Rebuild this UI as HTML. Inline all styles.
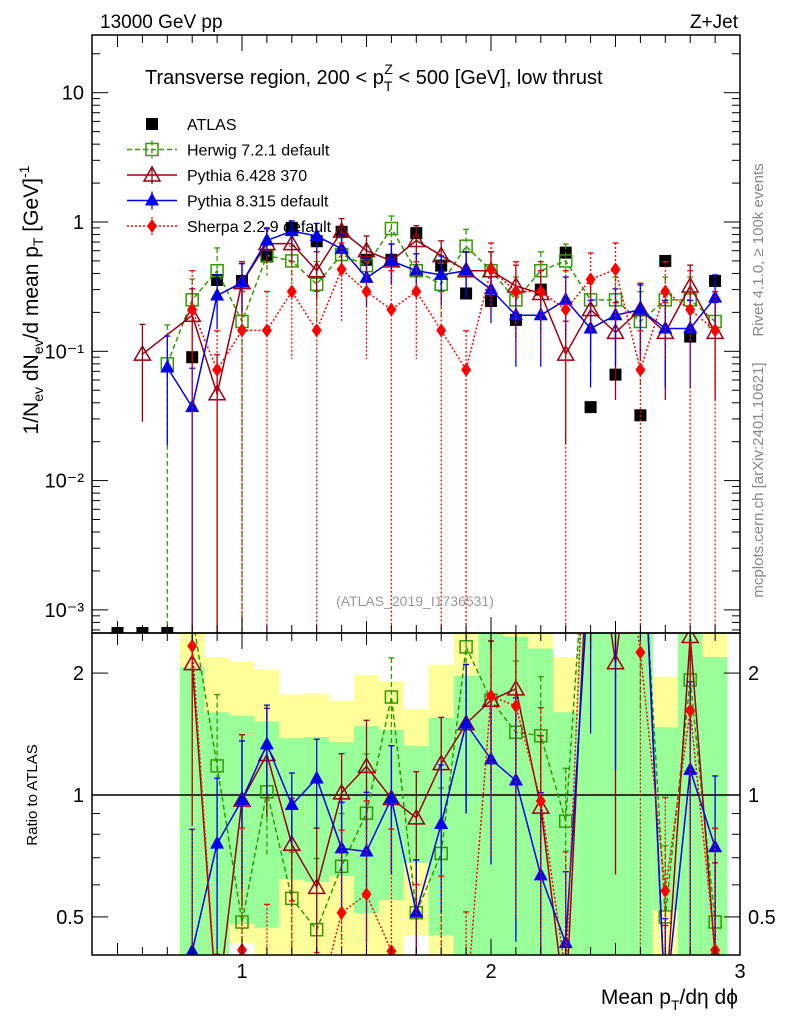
<!DOCTYPE html>
<html><head><meta charset="utf-8">
<style>
html,body{margin:0;padding:0;background:#fff;overflow:hidden;width:786px;height:1024px;}
svg{display:block;}
svg text{font-family:"Liberation Sans",Arial,sans-serif;}
</style></head>
<body>
<svg id="chart" width="786" height="1024" xmlns="http://www.w3.org/2000/svg">
<defs>
<clipPath id="cm"><rect x="92" y="35" width="648" height="598"/></clipPath>
<clipPath id="cr"><rect x="92" y="633" width="648" height="322"/></clipPath>
</defs>
<g id="bands" clip-path="url(#cr)"></g>
<g id="mainG" clip-path="url(#cm)"></g>
<g id="ratioG" clip-path="url(#cr)"></g>
<g id="axes"></g>
<text x="100" y="28" font-size="19">13000 GeV pp</text>
<text x="738" y="28" font-size="19" text-anchor="end">Z+Jet</text>
<text x="145" y="84" font-size="20">Transverse region, 200 &lt; p<tspan font-size="14" dy="7">T</tspan><tspan font-size="14" dx="-8" dy="-17">Z</tspan><tspan dy="10"> &lt; 500 [GeV], low thrust</tspan></text>
<text x="415" y="606" font-size="14" fill="#999" text-anchor="middle">(ATLAS_2019_I1736531)</text>
<text transform="translate(763,250) rotate(-90)" font-size="15" fill="#888" text-anchor="middle">Rivet 4.1.0, ≥ 100k events</text>
<text transform="translate(763,480) rotate(-90)" font-size="15" fill="#888" text-anchor="middle">mcplots.cern.ch [arXiv:2401.10621]</text>
<text transform="translate(38,300) rotate(-90)" font-size="21" text-anchor="middle">1/N<tspan font-size="14" dy="5">ev</tspan><tspan dy="-5"> dN</tspan><tspan font-size="14" dy="5">ev</tspan><tspan dy="-5">/d mean p</tspan><tspan font-size="14" dy="5">T</tspan><tspan dy="-5"> [GeV]</tspan><tspan font-size="14" dy="-9">-1</tspan></text>
<text transform="translate(37,795) rotate(-90)" font-size="15" text-anchor="middle">Ratio to ATLAS</text>
<text x="738" y="1004" font-size="21" text-anchor="end">Mean p<tspan font-size="14" dy="6">T</tspan><tspan dy="-6">/dη dϕ</tspan></text>
<g id="legend"></g>
</svg>
<script>
const bins=[0.5,0.6,0.7,0.8,0.9,1.0,1.1,1.2,1.3,1.4,1.5,1.6,1.7,1.8,1.9,2.0,2.1,2.2,2.3,2.4,2.5,2.6,2.7,2.8,2.9];
const atlas=[0,0,0,0.09,0.356,0.35,0.54,0.9,0.71,0.84,0.51,0.51,0.82,0.46,0.28,0.245,0.175,0.3,0.58,0.037,0.066,0.032,0.5,0.13,0.35];
const herwig=[0,0,0.08,0.25,0.42,0.17,0.55,0.5,0.33,0.56,0.46,0.89,0.42,0.33,0.65,0.42,0.25,0.42,0.5,0.25,0.25,0.17,0.25,0.25,0.17];
const pythia6=[0,0.095,0,0.19,0.047,0.34,0.68,0.68,0.42,0.85,0.6,0.5,0.72,0.55,0.42,0.42,0.32,0.28,0.095,0.21,0.14,0.21,0.14,0.32,0.14];
const pythia8=[0,0,0.075,0.037,0.27,0.34,0.72,0.85,0.78,0.62,0.37,0.5,0.42,0.39,0.42,0.3,0.19,0.19,0.25,0.15,0.19,0.21,0.15,0.15,0.26];
const sherpa=[0,0,0,0.21,0.072,0.145,0.145,0.29,0.145,0.43,0.29,0.21,0.29,0.145,0.072,0.43,0.29,0.29,0.21,0.36,0.43,0.072,0.29,0.21,0.145];
const herwigErr=[0,0,1,0.45,0.5,1,0.3,0.3,0.5,0.35,0.4,0.25,0.35,0.45,0.35,0.4,0.5,0.4,0.35,0.5,0.5,0.7,0.5,0.5,0.7];
const pythia6Err=[0,0.7,0,0.6,1,0.45,0.3,0.3,0.4,0.25,0.3,0.35,0.3,0.3,0.4,0.4,0.45,0.5,0.8,0.6,0.7,0.6,0.7,0.45,0.7];
const pythia8Err=[0,0,0.75,1,0.45,0.4,0.25,0.2,0.25,0.3,0.4,0.35,0.35,0.4,0.4,0.45,0.6,0.6,0.5,0.65,0.6,0.55,0.65,0.65,0.5];
const sherpaErr=[0,0,0,1,1,1,1,0.7,1,0.6,0.7,1,0.7,1,1,0.6,0.7,0.7,1,0.6,0.6,1,0.7,1,1];
const greenHi=[0,0,0,2.07,1.6,1.57,1.52,1.38,1.39,1.35,1.48,1.45,1.32,1.55,1.97,3,2.46,2.3,1.6,3,3,3,1.47,3,2.19];
const yellowHi=[0,0,0,3,2.19,2.13,2.04,1.77,1.78,1.71,1.98,1.91,1.63,2.1,3,3,3,3,2.19,3,3,3,1.96,3,3];
const greenLo=[0,0,0,0.3,0.3,0.48,0.47,0.62,0.61,0.63,0.51,0.55,0.68,0.45,0.3,0.3,0.3,0.3,0.3,0.3,0.3,0.3,0.52,0.3,0.3];
const yellowLo=[0,0,0,0.3,0.3,0.43,0.3,0.3,0.3,0.3,0.3,0.3,0.45,0.3,0.3,0.3,0.3,0.3,0.3,0.3,0.3,0.3,0.3,0.3,0.3];
const mainTicks=[10,1,0.1,0.01,0.001];
const mainTickLabels=["10","1","10⁻¹","10⁻²","10⁻³"];
const ratioTicks=[2,1,0.5];
const ratioTickLabels=["2","1","0.5"];
const xTicks=[1,2,3];
const xTickLabels=["1","2","3"];

const NS="http://www.w3.org/2000/svg";
const X=v=>92.6+(v-0.4)*249;
const clampY=y=>Math.max(10,Math.min(1010,y));
const Y=v=>clampY(222-Math.log10(v)*129.3);
const R=v=>clampY(795-Math.log10(v)*405);
function mk(tag,attrs,parent){const e=document.createElementNS(NS,tag);for(const k in attrs)e.setAttribute(k,attrs[k]);parent.appendChild(e);return e;}
const mainG=document.getElementById('mainG'),ratioG=document.getElementById('ratioG'),bandG=document.getElementById('bands'),axG=document.getElementById('axes'),legG=document.getElementById('legend');

for(let i=0;i<bins.length;i++){
  if(!greenHi[i])continue;
  const x0=X(bins[i]-0.05),w=X(bins[i]+0.05)-x0;
  const y=mk('rect',{x:x0,y:R(yellowHi[i]),width:w,height:R(yellowLo[i])-R(yellowHi[i]),fill:'#ffff99'},bandG);
  
  
  const g=mk('rect',{x:x0,y:R(greenHi[i]),width:w,height:R(greenLo[i])-R(greenHi[i]),fill:'#99ff99'},bandG);
  
  
}
const one=mk('line',{x1:92,x2:740,y1:R(1),y2:R(1),stroke:'#000','stroke-width':1.5},ratioG);



function marker(type,x,y,col,parent){
  let e;
  if(type==='sq') e=mk('rect',{x:x-6,y:y-6,width:12,height:12,fill:'none',stroke:col,'stroke-width':1.5},parent);
  else if(type==='fsq') e=mk('rect',{x:x-6,y:y-6,width:12,height:12,fill:col},parent);
  else if(type==='tri') e=mk('path',{d:`M${x},${y-8}L${x+8},${y+6}L${x-8},${y+6}Z`,fill:'none',stroke:col,'stroke-width':1.5},parent);
  else if(type==='ftri') e=mk('path',{d:`M${x},${y-8}L${x+7},${y+5}L${x-7},${y+5}Z`,fill:col},parent);
  else e=mk('path',{d:`M${x},${y-7}L${x+5},${y}L${x},${y+7}L${x-5},${y}Z`,fill:col},parent);
  return e;
}
const series=[
 {name:'herwig',vals:herwig,err:herwigErr,col:'#339900',dash:'5,3',m:'sq'},
 {name:'pythia6',vals:pythia6,err:pythia6Err,col:'#990011',dash:'',m:'tri'},
 {name:'pythia8',vals:pythia8,err:pythia8Err,col:'#0000ee',dash:'',m:'ftri'},
 {name:'sherpa',vals:sherpa,err:sherpaErr,col:'#ff0000',dash:'2,2',m:'dia'}
];
function drawSeries(s,parent,ratio){
  const pts=[];
  const bottom=ratio?1000:700;
  for(let i=0;i<bins.length;i++){
    let v=s.vals[i];
    if(!(v>0))continue;
    if(ratio){ if(!atlas[i])continue; v=v/atlas[i]; }
    const cx=X(bins[i]);
    const yf=ratio?R:Y;
    const cy=yf(v);
    pts.push(cx+','+cy);
    const e=s.err[i];
    const lo=v*(1-e), hi=v*(1+e);
    const eb=mk('line',{x1:cx,x2:cx,y1:yf(hi),y2:lo>0?yf(lo):bottom,stroke:s.col,'stroke-width':1.3,'stroke-dasharray':s.dash},parent);
    
    
    mk('line',{x1:cx-3,x2:cx+3,y1:yf(hi),y2:yf(hi),stroke:s.col,'stroke-width':1.3},parent);
  }
  const pl=mk('polyline',{points:pts.join(' '),fill:'none',stroke:s.col,'stroke-width':1.5,'stroke-dasharray':s.dash},parent);
  
  
  for(let i=0;i<bins.length;i++){
    let v=s.vals[i];
    if(!(v>0))continue;
    if(ratio){ if(!atlas[i])continue; v=v/atlas[i]; }
    const mm=marker(s.m,X(bins[i]),(ratio?R:Y)(v),s.col,parent);
    
    
  }
}
for(let i=0;i<bins.length;i++){
  const cy=atlas[i]>0?Y(atlas[i]):633;
  const p=marker('fsq',X(bins[i]),cy,'#000',mainG);
  
  
}
series.forEach(s=>{drawSeries(s,mainG,false);drawSeries(s,ratioG,true);});

[[35,598],[633,322]].forEach(([y,h])=>{
  const f=mk('rect',{x:92,y:y,width:648,height:h,fill:'none',stroke:'#000','stroke-width':1.5},axG);
  
  
});
for(let d=-4;d<=1;d++){for(let k=1;k<10;k++){const v=k*Math.pow(10,d);const y=222-Math.log10(v)*129.3;if(y<35||y>633)continue;const L=k===1?16:8;
 mk('line',{x1:92,x2:92+L,y1:y,y2:y,stroke:'#000'},axG);mk('line',{x1:740,x2:740-L,y1:y,y2:y,stroke:'#000'},axG);}}
mainTicks.forEach((v,i)=>{const t=mk('text',{x:84,y:Y(v)+7,'font-size':20,'text-anchor':'end'},axG);t.textContent=mainTickLabels[i];
 
 });
[0.5,0.6,0.7,0.8,0.9,1,2].forEach(v=>{const y=R(v);const L=(v===1||v===2||v===0.5)?16:8;
 mk('line',{x1:92,x2:92+L,y1:y,y2:y,stroke:'#000'},axG);mk('line',{x1:740,x2:740-L,y1:y,y2:y,stroke:'#000'},axG);});
ratioTicks.forEach((v,i)=>{[[84,'end'],[748,'start']].forEach(([x,a])=>{const t=mk('text',{x:x,y:R(v)+7,'font-size':20,'text-anchor':a},axG);t.textContent=ratioTickLabels[i];
 
 });});
for(let k=5;k<=30;k++){const v=k/10,x=X(v);const L=k%10===0?16:(k%5===0?12:8);
 [[35,1],[633,-1],[633,1],[955,-1]].forEach(([y,s])=>mk('line',{x1:x,x2:x,y1:y,y2:y+s*L,stroke:'#000'},axG));}
xTicks.forEach((v,i)=>{const t=mk('text',{x:X(v),y:978,'font-size':20,'text-anchor':'middle'},axG);t.textContent=xTickLabels[i];
 
 });
const leg=[['ATLAS','fsq','#000',''],['Herwig 7.2.1 default','sq','#339900','5,3'],['Pythia 6.428 370','tri','#990011',''],['Pythia 8.315 default','ftri','#0000ee',''],['Sherpa 2.2.9 default','dia','#ff0000','2,2']];
leg.forEach((l,i)=>{const y=124+i*25.5;
 if(i>0){mk('line',{x1:127,x2:177,y1:y,y2:y,stroke:l[2],'stroke-width':1.5,'stroke-dasharray':l[3]},legG);mk('line',{x1:152,x2:152,y1:y-9,y2:y+9,stroke:l[2],'stroke-width':1.3,'stroke-dasharray':l[3]},legG);}
 marker(l[1],152,y,l[2],legG);
 const t=mk('text',{x:187,y:y+6,'font-size':16},legG);t.textContent=l[0];
 
 });
</script>
</body></html>
